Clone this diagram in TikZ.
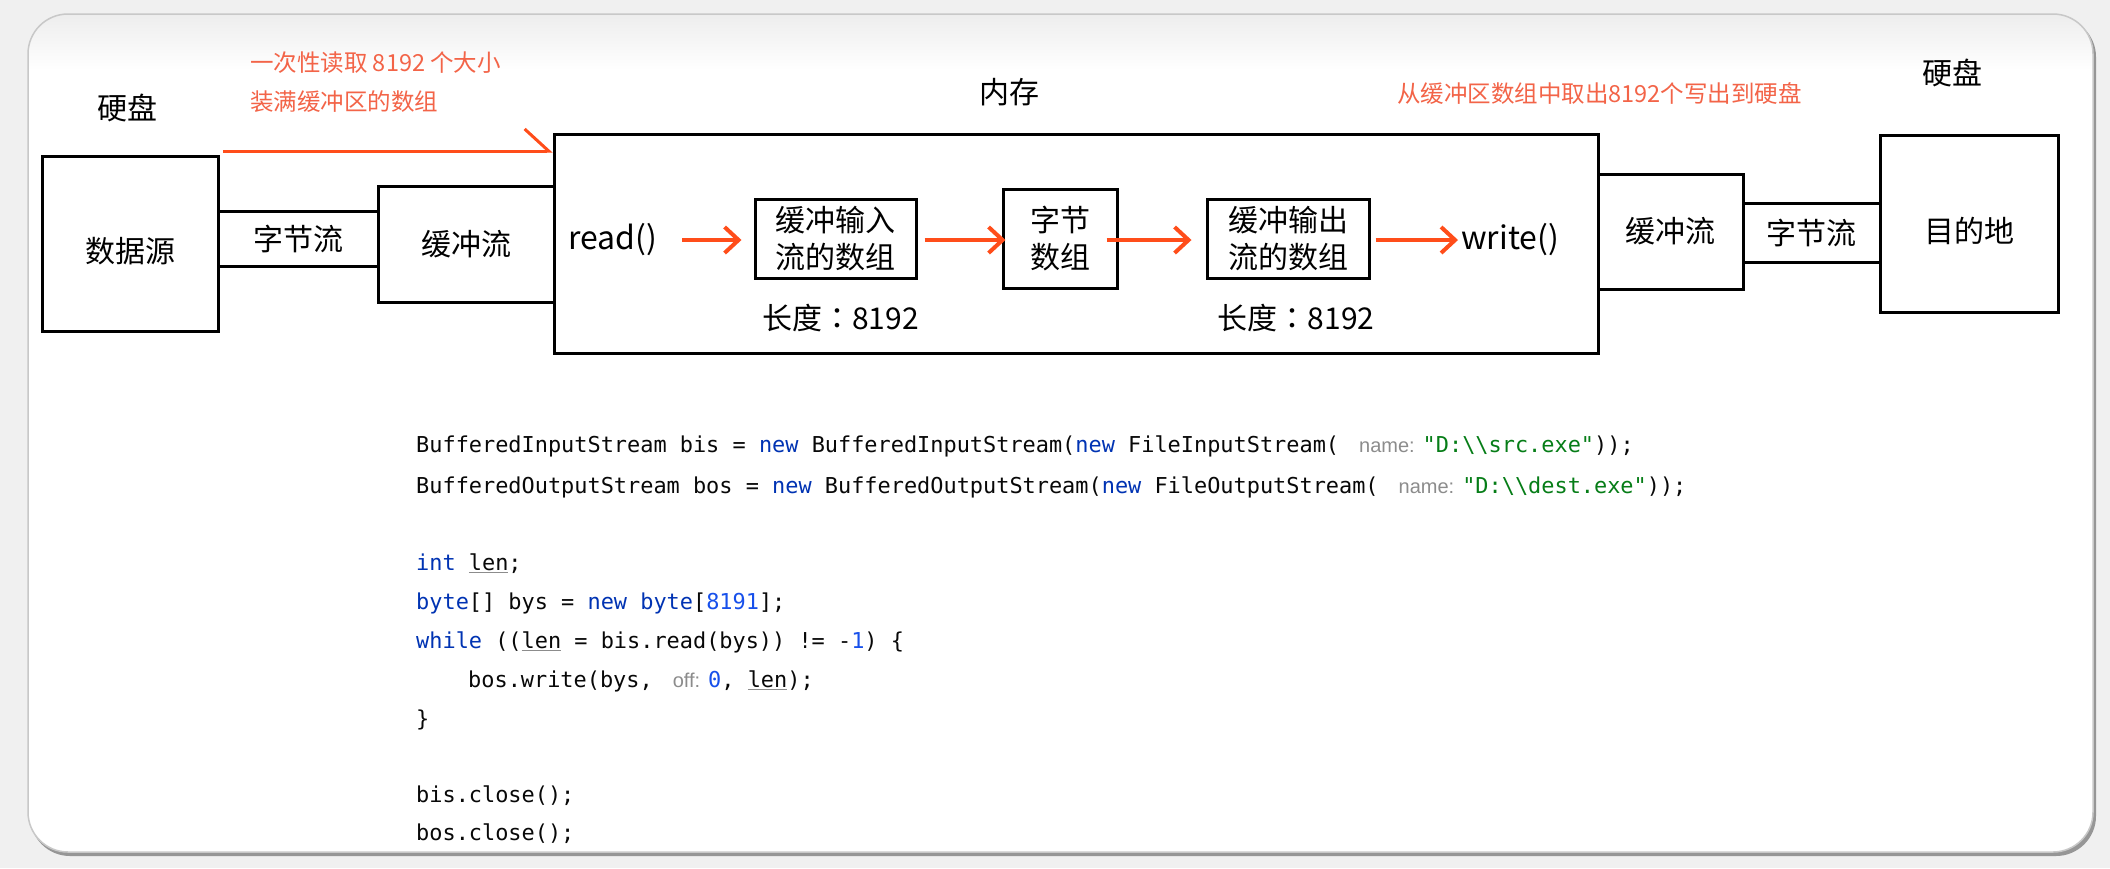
\documentclass[tikz,border=0pt]{standalone}
\usepackage{fontspec}
\setmainfont{Noto Sans CJK SC}
\setmonofont{DejaVu Sans Mono}
\newfontfamily\hintfont{Liberation Sans}
\newfontfamily\jpfont{Noto Sans CJK JP}
\usetikzlibrary{arrows.meta}
\definecolor{bgc}{RGB}{240,240,240}
\definecolor{shadowc}{RGB}{150,150,150}
\definecolor{panelborder}{RGB}{200,200,200}
\definecolor{notec}{RGB}{243,100,72}
\definecolor{arrowc}{RGB}{255,77,26}
\definecolor{kwc}{RGB}{0,51,179}
\definecolor{numc}{RGB}{23,80,235}
\definecolor{strc}{RGB}{6,125,23}
\definecolor{hintc}{RGB}{140,140,140}
\definecolor{codec}{RGB}{8,8,8}
\newcommand\codekw[1]{\textcolor{kwc}{#1}}
\newcommand\codenum[1]{\textcolor{numc}{#1}}
\newcommand\codestr[1]{\textcolor{strc}{#1}}
\newcommand\codehint[1]{\hspace*{20pt}{\hintfont\fontsize{20}{24}\selectfont\textcolor{hintc}{#1}}\hspace*{8pt}}
\newcommand\codeul[1]{\textcolor{hintc}{\underline{\textcolor{codec}{#1}}}}
\newcommand\lencolon{{\jpfont ：}}
\tikzset{
  box/.style={draw=black, line width=3pt, fill=white, inner sep=0pt, align=center,
    font=\fontsize{30}{37}\selectfont},
  lbl/.style={inner sep=0pt, align=center, font=\fontsize{30}{37}\selectfont},
  fn/.style={inner sep=0pt, font=\fontsize{32}{38}\selectfont},
  note/.style={inner sep=0pt, text=notec, font=\fontsize{23.5}{28}\selectfont},
  code/.style={anchor=base west, inner sep=0pt, text=codec,
    font=\ttfamily\fontsize{21.9}{26}\selectfont},
  flow/.style={draw=arrowc, line width=4pt, -{Straight Barb[length=14pt, width=26pt]}},
}
\begin{document}
\begin{tikzpicture}[x=1pt, y=-1pt]
\useasboundingbox (0,0) rectangle (2110,868);
% background and panel
\fill[bgc] (0,0) rectangle (2110,868);
\fill[shadowc, rounded corners=40pt] (30,17) rectangle (2096,856);
\fill[white, rounded corners=40pt] (28,14) rectangle (2093,852);
\begin{scope}
  \clip[rounded corners=40pt] (28,14) rectangle (2093,852);
  \shade[top color=black!7, bottom color=white] (28,14) rectangle (2093,70);
\end{scope}
\draw[panelborder, line width=1.5pt, rounded corners=40pt] (28,14) rectangle (2093,852);

% top labels
\node[lbl] (hdL) at (127.5,108) {硬盘};
\node[lbl] (mm) at (1009,92) {内存};
\node[lbl] (hdR) at (1952.5,73) {硬盘};
\node[note, anchor=west] (n1) at (250,63) {一次性读取 8192 个大小};
\node[note, anchor=west] (n2) at (250,102) {装满缓冲区的数组};
\node[note] (n3) at (1072.5,167) {从缓冲区中取出8192个，写到输出流的缓冲区数组};
\node[note, anchor=west] (n4) at (1397,93) {从缓冲区数组中取出8192个写出到硬盘};

% boxes
\node[box, minimum width=1044pt, minimum height=219pt] (mem) at (1076,243.5) {};
\node[box, minimum width=176pt, minimum height=175pt] (src) at (130,243.5) {\raisebox{-19pt}[0pt][0pt]{数据源}};
\node[box, minimum width=160pt, minimum height=55pt] (bs1) at (298,238.5) {字节流};
\node[box, minimum width=176pt, minimum height=116pt] (bf1) at (466,244) {缓冲流};
\node[box, minimum width=145pt, minimum height=115pt] (bf2) at (1670.5,231.5) {缓冲流};
\node[box, minimum width=137pt, minimum height=59pt] (bs2) at (1811.5,232.5) {字节流};
\node[box, minimum width=178pt, minimum height=177pt] (dst) at (1969,223.5) {\raisebox{-19pt}[0pt][0pt]{目的地}};
\node[box, minimum width=161pt, minimum height=79pt] (inA) at (835.5,238.5) {缓冲输入\\流的数组};
\node[box, minimum width=114pt, minimum height=99pt] (byA) at (1060,238.5) {字节\\数组};
\node[box, minimum width=162pt, minimum height=79pt] (outA) at (1288,238.5) {缓冲输出\\流的数组};

\node[fn, anchor=west] (rd) at (568,240) {read()};
\node[fn, anchor=west] (wr) at (1461,240) {write()};
\node[lbl] (len1) at (840.5,318) {长度\lencolon 8192};
\node[lbl] (len2) at (1296,318) {长度\lencolon 8192};

% arrows
\draw[flow, shorten <=25pt, shorten >=12pt] (rd.east) -- (rd.east -| inA.west);
\draw[flow, shorten <=7pt, shorten >=-4pt] (inA.east |- rd.east) -- (rd.east -| byA.west);
\draw[flow, shorten <=-12pt, shorten >=14pt] (byA.east |- rd.east) -- (rd.east -| outA.west);
\draw[flow, shorten <=5pt, shorten >=3pt] (outA.east |- wr.west) -- (wr.west);

\coordinate (rs) at (223,151);
\draw[draw=arrowc, line width=3pt, -{Straight Barb[left, length=24pt, width=44pt]}] (rs) -- (rs -| mem.west);

% code
\node[code] (c1) at (416,452) {BufferedInputStream bis = \codekw{new} BufferedInputStream(\codekw{new} FileInputStream(\codehint{name:}\codestr{"D:\textbackslash\textbackslash{}src.exe"}));};
\node[code] (c2) at (416,493) {BufferedOutputStream bos = \codekw{new} BufferedOutputStream(\codekw{new} FileOutputStream(\codehint{name:}\codestr{"D:\textbackslash\textbackslash{}dest.exe"}));};
\node[code] (c3) at (416,570) {\codekw{int} \codeul{len};};
\node[code] (c4) at (416,609) {\codekw{byte}[] bys = \codekw{new} \codekw{byte}[\codenum{8191}];};
\node[code] (c5) at (416,648) {\codekw{while} ((\codeul{len} = bis.read(bys)) != -\codenum{1}) \{};
\node[code] (c6) at (416,687) {\hspace*{52pt}bos.write(bys,\codehint{off:}\codenum{0}, \codeul{len});};
\node[code] (c7) at (416,726) {\}};
\node[code] (c8) at (416,802) {bis.close();};
\node[code] (c9) at (416,840) {bos.close();};
\end{tikzpicture}
\end{document}
